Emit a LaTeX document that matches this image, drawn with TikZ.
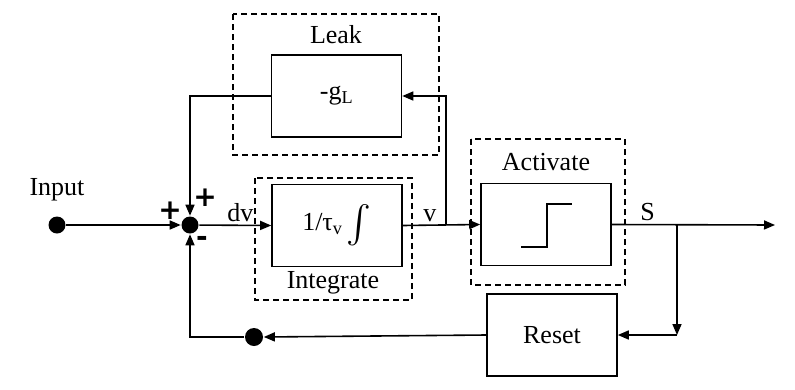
\documentclass[tikz,border=0pt]{standalone}
\usepackage{amsmath}
\usepackage{exscale}
\usepackage{fontspec}
\setmainfont{Liberation Serif}
\newfontfamily\signfont{DejaVu Sans}
\usepackage{graphicx}
\usepackage{tikz}
\usetikzlibrary{positioning, arrows.meta, calc}

\begin{document}
\begin{tikzpicture}[
    x=1pt, y=-1pt,
    line width=1.6pt,
    >={Triangle[length=11pt, width=9pt]},
    blk/.style={draw, rectangle, fill=white, align=center,
                font=\fontsize{26}{30}\selectfont,
                minimum width=130pt, minimum height=82pt},
    grp/.style={draw, rectangle, dashed, dash pattern=on 6pt off 4pt},
    lbl/.style={font=\fontsize{26}{30}\selectfont, inner sep=0pt},
    sgn/.style={font=\signfont\bfseries\fontsize{28}{30}\selectfont, inner sep=0pt},
    dot/.style={circle, fill=black, inner sep=0pt, minimum size=17pt}
]
    \useasboundingbox (0,0) rectangle (795,389);

    % --- Leak group ---
    \draw[grp] (233,14) rectangle (439,155);
    \node[lbl] (leaklbl) at (336,35) {Leak};
    \node[blk] (leak) at (336.5,96) {-g\textsubscript{L}};

    % --- Integrate group ---
    \draw[grp] (255,178) rectangle (412,300);
    \node[blk] (integ) at (337,225.5)
        {1/τ\textsubscript{v}\,\raisebox{-0.15em}{\scalebox{1.5}{$\int$}}};
    \node[lbl] (integlbl) at (333,283) {Integrate};

    % --- Activate group ---
    \draw[grp] (471,139) rectangle (625,285);
    \node[lbl] (actlbl) at (546,162) {Activate};
    \node[blk] (act) at (546,224.5) {};
    \draw[line width=1.3pt] (521,247) -- (547,247) -- (547,204) -- (572,204);

    % --- Reset ---
    \node[blk] (reset) at (552,335) {Reset};

    % --- Points ---
    \node[dot] (in) at (57,225) {};
    \node[lbl] (inlbl) at (57,190) {Input};
    \node[dot] (sum) at (190,225) {};
    \node[dot, minimum size=18pt] (rdot) at (254,337) {};
    \coordinate (vb) at (446,225);
    \coordinate (sb) at (677,225);
    \coordinate (out) at (775,225);
    \coordinate (rc) at (sb |- reset.east);

    % --- Signs ---
    \node[sgn] at (170,211) {+};
    \node[sgn] at (205,198) {+};
    \node[sgn] at (202,241) {-};

    % --- Connections ---
    \draw[->] (in) -- (sum.west);
    \draw[->] (sum) -- (integ.west)
        node[midway, above=3pt, lbl, xshift=5pt] {dv};
    \draw[->] (integ.east) -- (act.west)
        node[pos=0.35, above=3pt, lbl] {v};
    \draw[->] (vb) |- (leak.east);
    \draw[->] (leak.west) -| (sum.north);
    \draw[->] (act.east) -- (out)
        node[pos=0.22, above=3pt, lbl] {S};
    \draw[->] (sb) -- (rc);
    \draw[->] (rc) -- (reset.east);
    \draw[->] (reset.west) -- (rdot.east);
    \draw[->] (rdot.west) -| (sum.south);
\end{tikzpicture}
\end{document}
